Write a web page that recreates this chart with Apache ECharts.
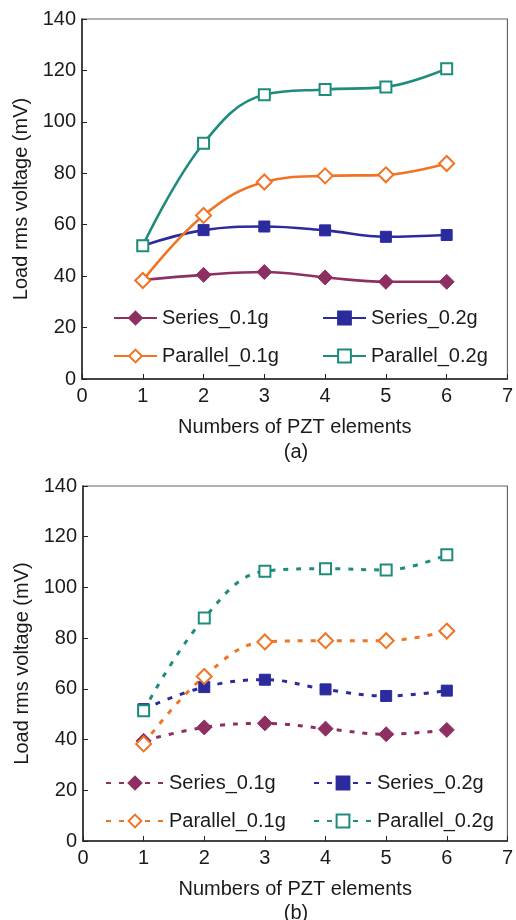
<!DOCTYPE html>
<html>
<head>
<meta charset="utf-8">
<script src="https://cdn.jsdelivr.net/npm/echarts@6/dist/echarts.min.js"></script>
<style>
html,body{margin:0;padding:0;background:#fff;}
#chart{width:516px;height:920px;}
</style>
</head>
<body>
<div id="chart"></div>
<script>
// ---- data ----
var xValues = [1, 2, 3, 4, 5, 6];
var seriesNames = ['Series_0.1g', 'Series_0.2g', 'Parallel_0.1g', 'Parallel_0.2g'];
var xTicks = [0, 1, 2, 3, 4, 5, 6, 7];
var yTicks = [0, 20, 40, 60, 80, 100, 120, 140];
// panel (a)
var aSeries01 = [38.5, 40.5, 41.6, 39.5, 37.8, 37.8];
var aSeries02 = [51.8, 57.9, 59.3, 57.8, 55.3, 56.0];
var aParallel01 = [38.3, 63.6, 76.6, 79.0, 79.4, 83.8];
var aParallel02 = [51.8, 91.7, 110.5, 112.6, 113.6, 120.7];
// panel (b)
var bSeries01 = [39.5, 44.8, 46.4, 44.3, 42.1, 43.8];
var bSeries02 = [52.0, 60.7, 63.6, 59.8, 57.2, 59.3];
var bParallel01 = [38.3, 64.9, 78.5, 79.0, 79.0, 82.8];
var bParallel02 = [51.4, 87.9, 106.4, 107.4, 106.9, 112.9];
var panelLabels = ['(a)', '(b)'];
var xName = 'Numbers of PZT elements';
var yName = 'Load rms voltage (mV)';

// ---- styles ----
var FONT = '"Liberation Sans", Arial, sans-serif';
var TXT = '#1a1a1a';
var colors = ['#8E2F62', '#2B2B9E', '#F07424', '#1E8C7C'];
var symbols = ['diamond', 'rect', 'diamond', 'rect'];
var symSizes = [15, 11, 15, 11];
var hollow = [false, false, true, true];

function pairs(ys) { return xValues.map(function (x, i) { return [x, ys[i]]; }); }

var panelData = [
  [aSeries01, aSeries02, aParallel01, aParallel02],
  [bSeries01, bSeries02, bParallel01, bParallel02]
];

var grids = [
  {left: 82, top: 19, right: 6, height: 360},
  {left: 83, top: 486, right: 7, height: 355}
];

function mkX(i) {
  return {
    type: 'value', gridIndex: i, min: xTicks[0], max: xTicks[xTicks.length - 1], interval: 1,
    name: xName, nameLocation: 'middle', nameGap: 38,
    nameTextStyle: {fontFamily: FONT, fontSize: 20, color: TXT},
    axisLine: {show: true, lineStyle: {color: '#222', width: 1.5}},
    axisTick: {show: true, inside: true, length: 5, lineStyle: {color: '#222', width: 1}},
    axisLabel: {fontFamily: FONT, fontSize: 20, color: TXT, margin: 7},
    splitLine: {show: false}
  };
}
function mkY(i) {
  return {
    type: 'value', gridIndex: i, min: yTicks[0], max: yTicks[yTicks.length - 1], interval: 20,
    name: yName, nameLocation: 'middle', nameGap: 49, nameRotate: 90,
    nameTextStyle: {fontFamily: FONT, fontSize: 20, color: TXT},
    axisLine: {show: true, lineStyle: {color: '#222', width: 1.5}},
    axisTick: {show: true, inside: true, length: 5, lineStyle: {color: '#222', width: 1}},
    axisLabel: {fontFamily: FONT, fontSize: 20, color: TXT, margin: 6},
    splitLine: {show: false}
  };
}

var series = [];
var legends = [];
var legendPos = [
  {rows: [318, 356], cols: [113, 322], w: 43},
  {rows: [783, 821], cols: [105, 313], w: 58}
];
for (var p = 0; p < 2; p++) {
  for (var s = 0; s < 4; s++) {
    var dashed = p === 1;
    series.push({
      name: seriesNames[s] + (p === 1 ? ' ' : ''),
      type: 'line',
      xAxisIndex: p, yAxisIndex: p,
      data: pairs(panelData[p][s]),
      smooth: 0.4,
      symbol: symbols[s],
      symbolSize: symSizes[s],
      showAllSymbol: true,
      lineStyle: {color: colors[s], width: dashed ? 3 : 2.6, type: dashed ? [5, 8] : 'solid'},
      itemStyle: {color: hollow[s] ? '#ffffff' : colors[s], borderColor: colors[s], borderWidth: hollow[s] ? 2 : 1},
      emphasis: {disabled: true},
      animation: false
    });
    var lp = legendPos[p];
    legends.push({
      data: [seriesNames[s] + (p === 1 ? ' ' : '')],
      left: lp.cols[s % 2],
      top: lp.rows[Math.floor(s / 2)] - 10,
      padding: 0,
      itemWidth: lp.w,
      itemHeight: 16,
      selectedMode: false,
      textStyle: {fontFamily: FONT, fontSize: 20, color: TXT}
    });
  }
}

var chart = echarts.init(document.getElementById('chart'), null, {renderer: 'canvas'});
chart.setOption({
  backgroundColor: '#ffffff',
  animation: false,
  grid: grids.map(function (g) {
    return Object.assign({show: true, borderColor: '#666', borderWidth: 1.2, backgroundColor: 'transparent'}, g);
  }),
  xAxis: [mkX(0), mkX(1)],
  yAxis: [mkY(0), mkY(1)],
  legend: legends,
  series: series,
  graphic: [
    {type: 'text', x: 296, y: 452, style: {text: panelLabels[0], font: '20px ' + FONT, fill: TXT, align: 'center', verticalAlign: 'middle'}},
    {type: 'text', x: 296, y: 913, style: {text: panelLabels[1], font: '20px ' + FONT, fill: TXT, align: 'center', verticalAlign: 'middle'}}
  ]
});
</script>
</body>
</html>
